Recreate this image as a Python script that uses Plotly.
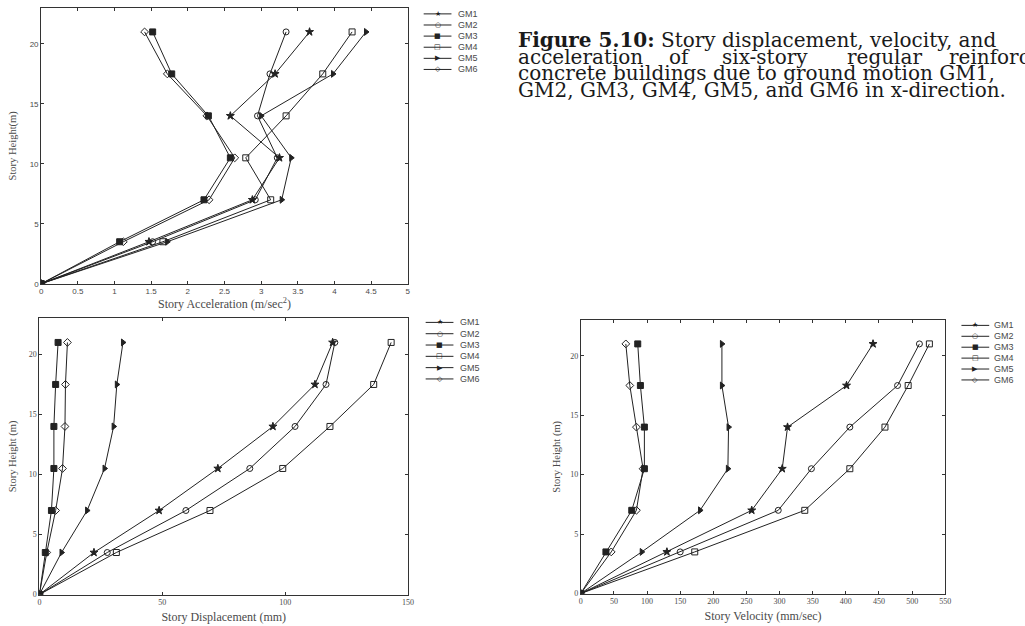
import plotly.graph_objects as go

W, H = 1025, 626

heights = [0, 3.5, 7, 10.5, 14, 17.5, 21]
series = ["GM1", "GM2", "GM3", "GM4", "GM5", "GM6"]

# Story acceleration (m/sec^2)
accel_gm1 = [0, 1.47, 2.88, 3.25, 2.58, 3.19, 3.66]
accel_gm2 = [0, 1.52, 2.92, 3.22, 2.95, 3.12, 3.34]
accel_gm3 = [0, 1.07, 2.22, 2.58, 2.28, 1.78, 1.52]
accel_gm4 = [0, 1.66, 3.13, 2.79, 3.34, 3.84, 4.24]
accel_gm5 = [0, 1.72, 3.28, 3.41, 3.00, 3.98, 4.43]
accel_gm6 = [0, 1.12, 2.29, 2.64, 2.26, 1.72, 1.41]

# Story displacement (mm)
disp_gm1 = [0, 22.2, 48.7, 72.6, 95.0, 112.1, 119.3]
disp_gm2 = [0, 27.6, 59.6, 85.6, 104.0, 116.6, 120.2]
disp_gm3 = [0, 2.4, 4.9, 5.9, 5.9, 6.6, 7.6]
disp_gm4 = [0, 31.3, 69.4, 99.0, 118.2, 136.0, 143.1]
disp_gm5 = [0, 9.0, 19.4, 26.5, 30.2, 31.5, 34.0]
disp_gm6 = [0, 3.0, 6.6, 9.4, 10.4, 10.6, 11.4]

# Story velocity (mm/sec)
vel_gm1 = [0, 130, 258, 304, 312, 401, 441]
vel_gm2 = [0, 150, 298, 348, 406, 478, 511]
vel_gm3 = [0, 38, 77, 96, 96, 90, 86]
vel_gm4 = [0, 172, 338, 406, 459, 494, 526]
vel_gm5 = [0, 92, 180, 222, 223, 213, 213]
vel_gm6 = [0, 46, 84, 94, 84, 74, 68]

accel = [accel_gm1, accel_gm2, accel_gm3, accel_gm4, accel_gm5, accel_gm6]
disp = [disp_gm1, disp_gm2, disp_gm3, disp_gm4, disp_gm5, disp_gm6]
vel = [vel_gm1, vel_gm2, vel_gm3, vel_gm4, vel_gm5, vel_gm6]

symbols = ["star", "circle-open", "square", "square-open", "triangle-right", "diamond-open"]
glyphs = ["★", "○", "■", "□", "▶", "◇"]
sizes = [6, 6, 6, 6, 6, 6]

LINE = "#222222"
TEXT = "#4a4a4a"


def px(x):
    return x / W


def py(y):
    return 1 - y / H


fig = go.Figure()

panels = [(accel, "x", "y"), (disp, "x2", "y2"), (vel, "x3", "y3")]
for data, xa, ya in panels:
    for i, name in enumerate(series):
        fig.add_trace(go.Scatter(
            x=data[i], y=heights, xaxis=xa, yaxis=ya, name=name,
            mode="lines+markers", showlegend=False,
            line=dict(color=LINE, width=1),
            marker=dict(symbol=symbols[i], size=sizes[i], color=LINE,
                        line=dict(color=LINE, width=1)),
        ))

axis_common = dict(showline=True, mirror="ticks", linecolor="#333333", linewidth=1,
                   ticks="inside", ticklen=3, tickcolor="#333333", showgrid=False,
                   zeroline=False)

top_tick_font = dict(family="Liberation Sans", size=8, color=TEXT)
bot_tick_font = dict(family="Liberation Serif", size=8, color=TEXT)
xtitle_font = dict(family="Liberation Serif", size=12, color=TEXT)
ytitle_font = dict(family="Liberation Serif", size=10.5, color=TEXT)

fig.update_layout(
    width=W, height=H, margin=dict(l=0, r=0, t=0, b=0),
    paper_bgcolor="white", plot_bgcolor="white",
    xaxis=dict(domain=[px(39.5), px(409)], range=[0, 5], dtick=0.5, anchor="y",
               tickfont=top_tick_font,
               title=dict(text="Story Acceleration (m/sec<sup>2</sup>)", font=xtitle_font, standoff=3),
               **axis_common),
    yaxis=dict(domain=[py(286), py(8)], range=[0, 23], tickvals=[0, 5, 10, 15, 20], anchor="x",
               tickfont=top_tick_font,
               title=dict(text="Story Height(m)", font=ytitle_font, standoff=10),
               **axis_common),
    xaxis2=dict(domain=[px(37.7), px(409.3)], range=[0, 150], dtick=50, anchor="y2",
                tickfont=bot_tick_font,
                title=dict(text="Story Displacement (mm)", font=xtitle_font, standoff=6),
                **axis_common),
    yaxis2=dict(domain=[py(599.3), py(321)], range=[0, 23], tickvals=[0, 5, 10, 15, 20], anchor="x2",
                tickfont=bot_tick_font,
                title=dict(text="Story Height (m)", font=ytitle_font, standoff=10),
                **axis_common),
    xaxis3=dict(domain=[px(583.3), px(950.7)], range=[0, 550], dtick=50, anchor="y3",
                tickfont=bot_tick_font,
                title=dict(text="Story Velocity (mm/sec)", font=xtitle_font, standoff=6),
                **axis_common),
    yaxis3=dict(domain=[py(598.3), py(322.7)], range=[0, 23], tickvals=[0, 5, 10, 15, 20], anchor="x3",
                tickfont=bot_tick_font,
                title=dict(text="Story Height (m)", font=ytitle_font, standoff=7),
                **axis_common),
)

# Legends (drawn as line shapes + text glyphs)
legend_specs = [
    (425, 453, 458, [14, 25.2, 36.4, 47.6, 58.8, 70]),
    (427, 455, 460, [325, 336.4, 347.8, 359.2, 370.6, 382]),
    (967, 995, 998, [328, 339, 350, 361, 372, 383]),
]
shapes = []
annotations = []
for x0, x1, xt, ys in legend_specs:
    for i, name in enumerate(series):
        yy = ys[i]
        shapes.append(dict(type="line", xref="paper", yref="paper",
                           x0=px(x0), x1=px(x1), y0=py(yy), y1=py(yy),
                           line=dict(color=LINE, width=1)))
        annotations.append(dict(text=glyphs[i], xref="paper", yref="paper",
                                x=px((x0 + x1) / 2), y=py(yy), xanchor="center", yanchor="middle",
                                showarrow=False,
                                font=dict(family="DejaVu Sans", size=7, color=LINE)))
        annotations.append(dict(text=name, xref="paper", yref="paper",
                                x=px(xt), y=py(yy), xanchor="left", yanchor="middle",
                                showarrow=False,
                                font=dict(family="Liberation Sans", size=9, color=TEXT)))

# Caption text (clipped by the page edge like the reference)
cap_font = dict(family="DejaVu Serif", size=20, color="#1a1a1a")
cap_x = 518
line_y = [40, 57, 74, 91]
annotations.append(dict(text="<b>Figure 5.10:</b> Story displacement, velocity, and",
                        xref="paper", yref="paper", x=px(cap_x), y=py(line_y[0]),
                        xanchor="left", yanchor="middle", showarrow=False, font=cap_font))
line2_words = [("acceleration", 518), ("of", 670), ("six-story", 724), ("regular", 850), ("reinforced", 952)]
for w, xw in line2_words:
    annotations.append(dict(text=w, xref="paper", yref="paper", x=px(xw), y=py(line_y[1]),
                            xanchor="left", yanchor="middle", showarrow=False, font=cap_font))
annotations.append(dict(text="concrete buildings due to ground motion GM1,",
                        xref="paper", yref="paper", x=px(cap_x), y=py(line_y[2]),
                        xanchor="left", yanchor="middle", showarrow=False, font=cap_font))
annotations.append(dict(text="GM2, GM3, GM4, GM5, and GM6 in x-direction.",
                        xref="paper", yref="paper", x=px(cap_x), y=py(line_y[3]),
                        xanchor="left", yanchor="middle", showarrow=False, font=cap_font))

fig.update_layout(shapes=shapes, annotations=annotations)

fig.write_html("out.html")
